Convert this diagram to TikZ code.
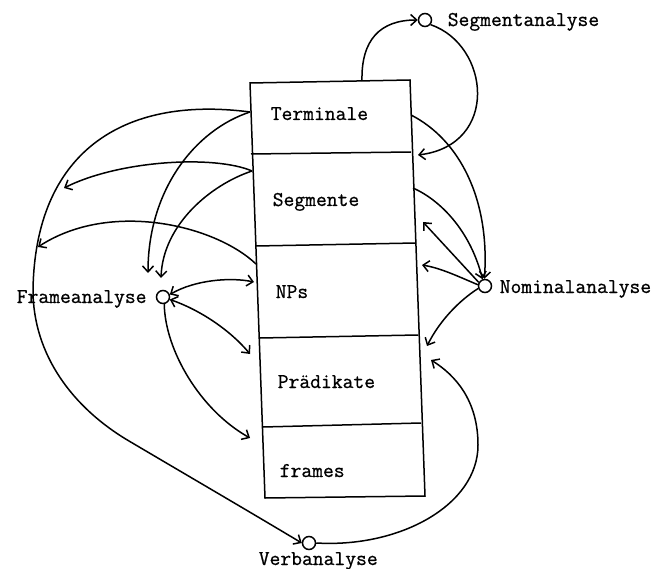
\documentclass[tikz,border=0pt]{standalone}
\usepackage{fontspec}
\newfontfamily\twfont[UprightFeatures={FakeBold=0.8}]{Latin Modern Mono}
\usetikzlibrary{arrows.meta}
\begin{document}
\begin{tikzpicture}[x=1pt,y=-1pt,
  line width=1.5pt,
  lbl/.style={font=\twfont\fontsize{21}{25}\selectfont, inner sep=0pt, anchor=base west},
  dot/.style={circle, draw, line width=1.5pt, minimum size=13pt, inner sep=0pt},
  tip/.tip={Straight Barb[length=6pt,width=11pt]},
  arr/.style={-tip},
  darr/.style={tip-tip}]
\useasboundingbox (0,0) rectangle (658,569);
% box
\coordinate (TL) at (250,83);
\coordinate (TR) at (410,80);
\coordinate (BR) at (425,496);
\coordinate (BL) at (265,498);
\draw (TL) -- (TR) -- (BR) -- (BL) -- cycle;
\draw (251,154) -- (411,152);
\draw (256,246) -- (416,243);
\draw (260,338) -- (418,335);
\draw (263,427) -- (421,423);
% compartment texts
\node[lbl] (term) at (270,120) {Terminale};
\node[lbl] (seg) at (272,206) {Segmente};
\node[lbl] (nps) at (275,298) {NPs};
\node[lbl] (praed) at (277,388) {Prädikate};
\node[lbl] (frm) at (279,477) {frames};
% analysis circles
\node[dot] (sa) at (425,20) {};
\node[dot] (na) at (485,286) {};
\node[dot] (fa) at (163,297) {};
\node[dot] (va) at (309,543) {};
\node[lbl] (saL) at (447,26) {Segmentanalyse};
\node[lbl] (naL) at (499,293) {Nominalanalyse};
\node[lbl] (faL) at (16,303) {Frameanalyse};
\node[lbl] (vaL) at (258,565) {Verbanalyse};
% edge points
\coordinate (tTop) at (362,81);
\coordinate (tR) at (411,115);
\coordinate (tL) at (250,112);
\coordinate (sR) at (413,188);
\coordinate (sL) at (252,171);
\coordinate (nL) at (256,264);
\coordinate (c1) at (418,155);
\coordinate (c2) at (423,222);
\coordinate (c3) at (422,265);
\coordinate (c4) at (427,346);
\coordinate (c5) at (431,360);
\coordinate (f1) at (254,282);
\coordinate (f2) at (250,354);
\coordinate (f3) at (250,438);
\coordinate (fa1) at (148,273);
\coordinate (fa2) at (161,278);
\coordinate (o1) at (64,188);
\coordinate (o2) at (38,247);
\coordinate (oL) at (33,290);
\coordinate (oB) at (129,441);
% connectors right / top
\draw[arr] (tTop) .. controls (361,40) and (380,20) .. (sa.west);
\draw[arr] (sa.-40) .. controls (490,45) and (500,145) .. (c1);
\draw[arr] (tR) .. controls (460,140) and (490,200) .. (na.95);
\draw[arr] (sR) .. controls (440,200) and (470,230) .. (na.110);
\draw[arr] (na.150) -- (c2);
\draw[arr] (na.170) .. controls (455,275) and (440,268) .. (c3);
\draw[arr] (na.200) .. controls (460,300) and (440,320) .. (c4);
\draw[arr] (va.east) .. controls (400,548) and (478,505) .. (478,445) .. controls (478,400) and (455,375) .. (c5);
% connectors left
\draw[arr] (tL) .. controls (120,95) and (35,155) .. (oL) .. controls (33,355) and (73,408) .. (oB) .. controls (190,477) and (250,512) .. (va.west);
\draw[arr] (tL) .. controls (195,130) and (148,190) .. (fa1);
\draw[arr] (sL) .. controls (215,155) and (120,160) .. (o1);
\draw[arr] (sL) .. controls (210,185) and (163,225) .. (fa2);
\draw[arr] (nL) .. controls (215,225) and (110,200) .. (o2);
\draw[darr] (fa.20) .. controls (195,280) and (230,277) .. (f1);
\draw[darr] (fa.-20) .. controls (200,310) and (230,330) .. (f2);
\draw[arr] (fa.-80) .. controls (165,350) and (200,410) .. (f3);
\end{tikzpicture}
\end{document}
